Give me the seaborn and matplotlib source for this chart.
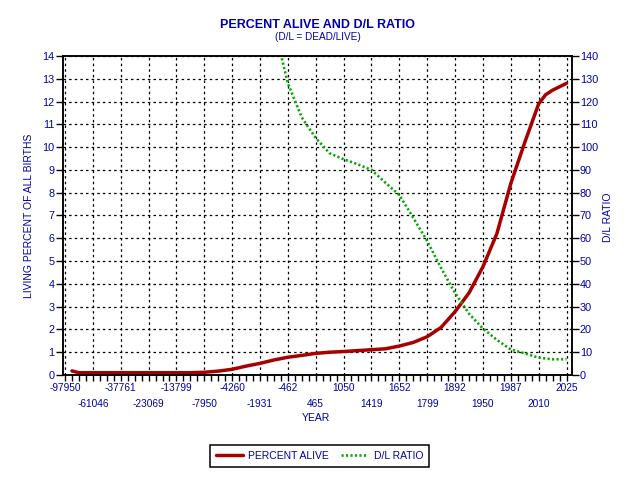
import numpy as np
import pandas as pd
import seaborn as sns
import matplotlib.pyplot as plt
from matplotlib.ticker import MultipleLocator

# x axis is categorical: one label per major tick, data read at half steps
years = ["-97950", "-61046", "-37761", "-23069", "-13799", "-7950", "-4260",
         "-1931", "-462", "465", "1050", "1419", "1652", "1799", "1892",
         "1950", "1987", "2010", "2025"]

pos_alive = [0.25, 0.5, 1.0, 1.5, 2.0, 2.5, 3.0, 3.5, 4.0, 4.5, 5.0, 5.5,
             6.0, 6.5, 7.0, 7.5, 8.0, 8.5, 9.0, 9.5, 10.0, 10.5, 11.0, 11.5,
             12.0, 12.5, 13.0, 13.5, 14.0, 14.5, 15.0, 15.5, 16.0, 16.5,
             17.0, 17.25, 17.5, 18.0]
alive = [0.18, 0.10, 0.10, 0.10, 0.10, 0.10, 0.10, 0.10, 0.10, 0.10, 0.12,
         0.17, 0.25, 0.39, 0.51, 0.66, 0.78, 0.86, 0.95, 1.00, 1.03, 1.07,
         1.11, 1.15, 1.27, 1.43, 1.68, 2.09, 2.78, 3.60, 4.75, 6.20, 8.40,
         10.20, 11.90, 12.30, 12.50, 12.80]

pos_dl = [7.78, 8.0, 8.5, 9.0, 9.5, 10.0, 10.5, 11.0, 11.5, 12.0, 12.5,
          13.0, 13.5, 14.0, 14.5, 15.0, 15.5, 16.0, 16.5, 17.0, 17.5, 18.0]
dl_ratio = [139, 128, 113, 104, 97.3, 94.7, 92.5, 90, 84.4, 79, 69, 58.8,
            46.9, 36, 26.9, 20.4, 15.4, 11.2, 9.5, 7.6, 6.9, 6.9]

RED = "#A80000"
GREEN = "#00A800"
NAVY = "#0000A8"

sns.set_style("white")
plt.rcParams['font.family'] = ['Liberation Sans', 'DejaVu Sans']

df_alive = pd.DataFrame({"pos": pos_alive, "alive": alive})
df_dl = pd.DataFrame({"pos": pos_dl, "dl": dl_ratio})

fig = plt.figure(figsize=(6.4, 4.8), dpi=100)
ax = fig.add_axes([0.0984, 0.21875, 0.7946, 0.6646])
ax2 = ax.twinx()

sns.lineplot(data=df_alive, x="pos", y="alive", ax=ax, color=RED, lw=2.5,
             label="PERCENT ALIVE", legend=False)
sns.lineplot(data=df_dl, x="pos", y="dl", ax=ax2, color=GREEN, lw=1.9,
             linestyle=(0, (0.8, 0.9)), label="D/L RATIO", legend=False)

ax.set_xlim(-0.072, 18.18)
ax.set_ylim(0, 14)
ax2.set_ylim(0, 140)
ax.set_xticks(range(len(years)))
ax.set_xticklabels(years)
ax.xaxis.set_minor_locator(MultipleLocator(0.25))
ax.set_yticks(range(0, 15))
ax2.set_yticks(range(0, 141, 10))
ax.set_xlabel("")
ax.set_ylabel("")
ax2.set_ylabel("")

ax.grid(True, which="major", color="black", lw=0.9, linestyle=(0, (2, 2.5)))
ax2.grid(False)

for a in (ax, ax2):
    for s in a.spines.values():
        s.set_color("black")
        s.set_linewidth(1.1)

ax.tick_params(axis="x", which="both", bottom=True, direction="out", length=4,
               width=1, color="black", labelsize=7.3, labelcolor=NAVY, pad=2)
ax.tick_params(axis="y", left=True, direction="out", length=5, width=1,
               color="black", labelsize=7.8, labelcolor=NAVY, pad=1)
ax2.tick_params(axis="y", right=True, direction="out", length=5, width=1,
                color="black", labelsize=7.8, labelcolor=NAVY, pad=1)

# odd labels sit on a second, lower row
for i, t in enumerate(ax.xaxis.get_major_ticks()):
    if i % 2 == 1:
        t.set_pad(13)

fig.text(0.496, 0.948, "PERCENT ALIVE AND D/L RATIO", ha="center", va="center",
         fontsize=9, fontweight="bold", color=NAVY)
fig.text(0.496, 0.922, "(D/L = DEAD/LIVE)", ha="center", va="center",
         fontsize=7.2, color=NAVY)
fig.text(0.494, 0.13, "YEAR", ha="center", va="center", fontsize=7.5, color=NAVY)
fig.text(0.046, 0.55, "LIVING PERCENT OF ALL BIRTHS", rotation=90,
         ha="center", va="center", fontsize=7.5, color=NAVY)
fig.text(0.95, 0.548, "D/L RATIO", rotation=90, ha="center", va="center",
         fontsize=7.5, color=NAVY)

h1, l1 = ax.get_legend_handles_labels()
h2, l2 = ax2.get_legend_handles_labels()
leg = fig.legend(h1 + h2, l1 + l2, loc="center", bbox_to_anchor=(0.499, 0.05),
                 ncol=2, frameon=True, fancybox=False, edgecolor="black",
                 framealpha=1, fontsize=7.5, labelcolor=NAVY, handlelength=2.6,
                 handletextpad=0.5, columnspacing=1.2, borderpad=0.55)
leg.get_frame().set_linewidth(1.1)

fig.savefig("out.png", dpi=100)
